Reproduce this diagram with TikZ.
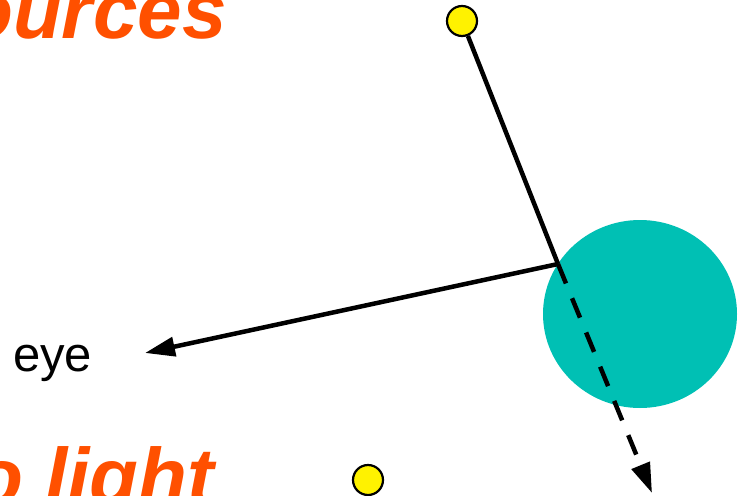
\documentclass[tikz,border=0pt]{standalone}
\usepackage{fontspec}
\setmainfont{Liberation Sans}
\usetikzlibrary{arrows.meta,shapes.geometric,positioning}
\definecolor{headorange}{RGB}{255,80,0}
\definecolor{ballteal}{RGB}{0,192,180}

\begin{document}
\begin{tikzpicture}[x=1pt, y=-1pt,
            lamp/.style={circle, draw, fill=yellow, line width=2.2pt, minimum size=30pt, inner sep=0pt}, % 光源
            ball/.style={ellipse, fill=ballteal, minimum width=194pt, minimum height=188pt, inner sep=0pt},
            beam/.style={line width=4.5pt},
            ray/.style={beam, -{Triangle[length=30pt, width=19pt]}},
            headline/.style={font=\fontsize{80}{84}\selectfont\bfseries\itshape, text=headorange, inner sep=0pt, anchor=base west},
            tag/.style={font=\fontsize{49}{52}\selectfont, inner sep=0pt, anchor=base west}
        ]
        \useasboundingbox (0,0) rectangle (738,495);

        % 球体和光源
        \node (sphere) [ball] at (640,314) {};
        \node (light1) [lamp] at (462,21) {};
        \node (light2) [lamp] at (368,480) {};
        \coordinate (hit) at (558,264);
        \coordinate (eyetip) at (145,353);
        \coordinate (through) at (652,493);

        % 文字
        \node (upper) [headline] at (-36,39) {ources};
        \node (lower) [headline] at (-26,504) {o light};
        \node (eye) [tag] at (13,371) {eye};

        % 光线
        \draw [beam] (light1) -- (hit);
        \draw [ray] (hit) -- (eyetip);
        \draw [ray, dash pattern=on 21pt off 16pt] (hit) -- (through);

        \end{tikzpicture}
\end{document}
